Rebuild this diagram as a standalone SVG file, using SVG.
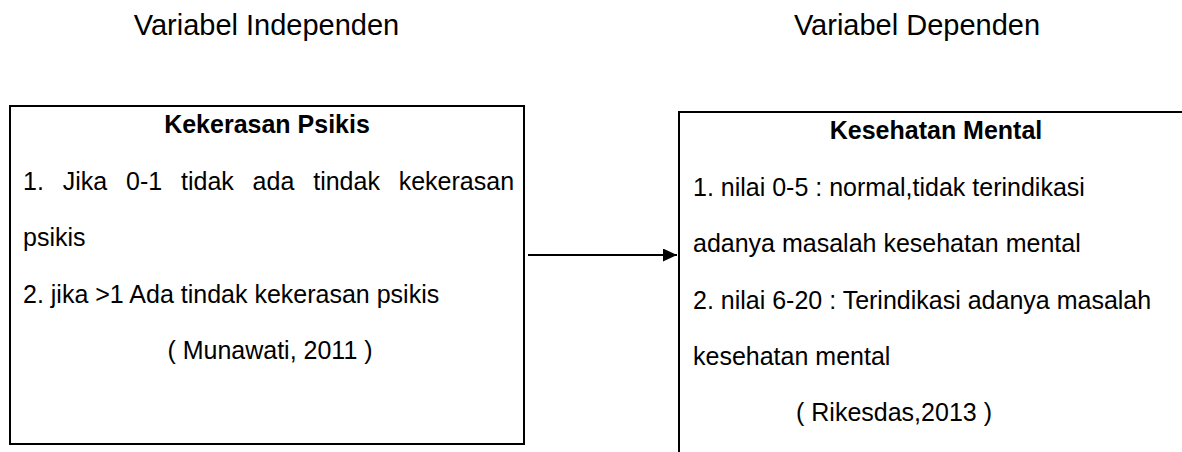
<svg xmlns="http://www.w3.org/2000/svg" width="1182" height="452" viewBox="0 0 1182 452">
<style>
  .bg { fill: #ffffff; }
  .box { fill: #ffffff; stroke: #000000; stroke-width: 2; }
  .hdr { font-family: "Liberation Sans", Arial, sans-serif; font-size: 29px; fill: #000000; }
  .t { font-family: "Liberation Sans", Arial, sans-serif; font-size: 25px; fill: #000000; }
  .b { font-weight: bold; }
  .edge { stroke: #000000; stroke-width: 1.8; fill: none; }
</style>
<defs>
  <marker id="arr" markerWidth="14" markerHeight="13" refX="14" refY="6.5" orient="auto" markerUnits="userSpaceOnUse">
    <polygon points="0,0 14,6.5 0,13" fill="#000000"/>
  </marker>
</defs>
<rect class="bg" x="0" y="0" width="1182" height="452"/>

<g id="header-independen">
  <text class="hdr" x="266.5" y="35" text-anchor="middle">Variabel Independen</text>
</g>
<g id="header-dependen">
  <text class="hdr" x="917" y="35" text-anchor="middle">Variabel Dependen</text>
</g>

<g id="node-kekerasan-psikis">
  <rect class="box" x="10" y="106" width="514" height="338"/>
  <text class="t b" x="267" y="133" text-anchor="middle">Kekerasan Psikis</text>
  <text class="t" y="190"><tspan x="23">1.</tspan><tspan x="62.7">Jika</tspan><tspan x="126">0-1</tspan><tspan x="181">tidak</tspan><tspan x="252.6">ada</tspan><tspan x="313.2">tindak</tspan><tspan x="398.7">kekerasan</tspan></text>
  <text class="t" x="23" y="246">psikis</text>
  <text class="t" x="23" y="303">2. jika &gt;1 Ada tindak kekerasan psikis</text>
  <text class="t" x="270" y="359" text-anchor="middle">( Munawati, 2011 )</text>
</g>

<g id="node-kesehatan-mental">
  <rect class="box" x="679" y="112" width="514" height="360"/>
  <text class="t b" x="936" y="139" text-anchor="middle">Kesehatan Mental</text>
  <text class="t" x="693" y="196">1. nilai 0-5 : normal,tidak terindikasi</text>
  <text class="t" x="693" y="252">adanya masalah kesehatan mental</text>
  <text class="t" x="693" y="309">2. nilai 6-20 : Terindikasi adanya masalah</text>
  <text class="t" x="693" y="365">kesehatan mental</text>
  <text class="t" x="894" y="421" text-anchor="middle">( Rikesdas,2013 )</text>
</g>

<g id="connectors">
  <line class="edge" x1="528" y1="255" x2="677" y2="255" marker-end="url(#arr)"/>
</g>
</svg>
